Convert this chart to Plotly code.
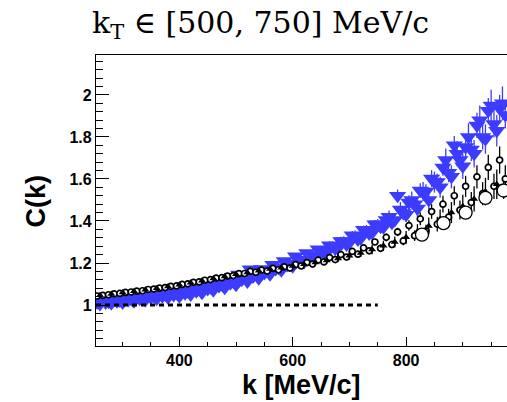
import plotly.graph_objects as go

# Correlation function C(k) for k_T in [500, 750] MeV/c

# Common k binning (MeV/c)
k_bins = [255, 265, 275, 285, 295, 305, 315, 325, 335, 345,
          355, 365, 375, 385, 395, 405, 415, 425, 435, 445,
          455, 465, 475, 485, 495, 505, 515, 525, 535, 545,
          555, 565, 575, 585, 595, 605, 615, 625, 635, 645,
          655, 665, 675, 685, 695, 705, 715, 725, 735, 745,
          755, 765, 775, 785, 795, 805, 815, 825, 835, 845,
          855, 865, 875, 885, 895, 905, 915, 925, 935, 945,
          955, 965, 975]

# Blue data set (filled down triangles)
blue_c = [1.012, 1.024, 1.016, 1.030, 1.022, 1.037, 1.029, 1.045, 1.036, 1.052,
          1.044, 1.060, 1.050, 1.066, 1.057, 1.074, 1.065, 1.084, 1.075, 1.095,
          1.085, 1.108, 1.099, 1.122, 1.112, 1.145, 1.132, 1.170, 1.150, 1.172,
          1.162, 1.192, 1.178, 1.210, 1.198, 1.232, 1.215, 1.248, 1.232, 1.265,
          1.248, 1.285, 1.268, 1.305, 1.288, 1.332, 1.312, 1.358, 1.340, 1.385,
          1.372, 1.405, 1.392, 1.520, 1.438, 1.488, 1.480, 1.545, 1.540, 1.602,
          1.585, 1.655, 1.630, 1.760, 1.690, 1.752, 1.740, 1.855, 1.800, 1.925,
          1.862, 1.935, 1.905]
blue_err = [0.006, 0.006, 0.006, 0.006, 0.006, 0.006, 0.006, 0.006, 0.006, 0.006,
            0.006, 0.006, 0.006, 0.006, 0.006, 0.006, 0.006, 0.006, 0.006, 0.006,
            0.010, 0.010, 0.010, 0.010, 0.010, 0.010, 0.010, 0.010, 0.010, 0.010,
            0.010, 0.010, 0.010, 0.010, 0.010, 0.012, 0.012, 0.012, 0.012, 0.012,
            0.020, 0.020, 0.020, 0.020, 0.020, 0.020, 0.020, 0.020, 0.020, 0.020,
            0.025, 0.025, 0.025, 0.030, 0.030, 0.035, 0.035, 0.035, 0.035, 0.040,
            0.040, 0.040, 0.045, 0.045, 0.045, 0.050, 0.055, 0.060, 0.060, 0.060,
            0.065, 0.065, 0.065]

# Blue data set, shifted binning (filled down triangles)
blue2_k = [260, 270, 280, 290, 300, 310, 320, 330, 340, 350,
           360, 370, 380, 390, 400, 410, 420, 430, 440, 450,
           460, 470, 480, 490, 500, 510, 520, 530, 540, 550,
           560, 570, 580, 590, 600, 610, 620, 630, 640, 650,
           660, 670, 680, 690, 700, 710, 720, 730, 740, 750,
           760, 770, 780, 790, 800, 810, 820, 830, 840, 850,
           860, 870, 880, 890, 900, 910, 920, 930, 940, 950,
           960, 970]
blue2_c = [1.005, 1.012, 1.008, 1.018, 1.012, 1.024, 1.018, 1.030, 1.024, 1.036,
           1.030, 1.042, 1.036, 1.048, 1.042, 1.056, 1.050, 1.066, 1.058, 1.076,
           1.070, 1.090, 1.082, 1.104, 1.096, 1.120, 1.112, 1.136, 1.128, 1.152,
           1.146, 1.172, 1.165, 1.190, 1.185, 1.212, 1.205, 1.235, 1.226, 1.258,
           1.250, 1.282, 1.272, 1.305, 1.296, 1.330, 1.318, 1.356, 1.344, 1.385,
           1.370, 1.420, 1.405, 1.455, 1.430, 1.500, 1.460, 1.540, 1.500, 1.585,
           1.560, 1.690, 1.610, 1.720, 1.660, 1.800, 1.720, 1.880, 1.790, 1.950,
           1.830, 1.960]
blue2_err = [0.008, 0.008, 0.008, 0.008, 0.008, 0.008, 0.008, 0.008, 0.008, 0.008,
             0.008, 0.008, 0.008, 0.008, 0.008, 0.008, 0.008, 0.008, 0.008, 0.008,
             0.012, 0.012, 0.012, 0.012, 0.012, 0.012, 0.012, 0.012, 0.012, 0.012,
             0.014, 0.014, 0.014, 0.014, 0.014, 0.016, 0.016, 0.016, 0.016, 0.016,
             0.022, 0.022, 0.022, 0.022, 0.022, 0.025, 0.025, 0.025, 0.025, 0.025,
             0.030, 0.030, 0.030, 0.035, 0.035, 0.040, 0.040, 0.045, 0.045, 0.050,
             0.050, 0.055, 0.055, 0.060, 0.060, 0.065, 0.065, 0.070, 0.070, 0.075,
             0.075, 0.080]

# Black data set (open circles)
black_c = [1.043, 1.046, 1.049, 1.053, 1.055, 1.060, 1.062, 1.066, 1.068, 1.074,
           1.076, 1.080, 1.083, 1.089, 1.091, 1.098, 1.101, 1.108, 1.110, 1.118,
           1.121, 1.128, 1.130, 1.138, 1.140, 1.149, 1.150, 1.160, 1.156, 1.166,
           1.162, 1.174, 1.168, 1.182, 1.176, 1.192, 1.186, 1.202, 1.195, 1.214,
           1.205, 1.226, 1.216, 1.240, 1.228, 1.255, 1.242, 1.272, 1.258, 1.300,
           1.270, 1.322, 1.288, 1.348, 1.305, 1.378, 1.330, 1.410, 1.352, 1.445,
           1.385, 1.480, 1.418, 1.520, 1.452, 1.565, 1.488, 1.610, 1.530, 1.655,
           1.565, 1.690, 1.600]
black_err = [0.004, 0.004, 0.004, 0.004, 0.004, 0.004, 0.004, 0.004, 0.004, 0.004,
             0.004, 0.004, 0.004, 0.004, 0.004, 0.005, 0.005, 0.005, 0.005, 0.005,
             0.006, 0.006, 0.006, 0.006, 0.006, 0.007, 0.007, 0.007, 0.007, 0.007,
             0.008, 0.008, 0.008, 0.008, 0.008, 0.010, 0.010, 0.010, 0.010, 0.010,
             0.012, 0.012, 0.012, 0.012, 0.012, 0.015, 0.015, 0.015, 0.015, 0.015,
             0.018, 0.018, 0.018, 0.020, 0.020, 0.025, 0.025, 0.030, 0.030, 0.035,
             0.035, 0.040, 0.040, 0.045, 0.045, 0.050, 0.050, 0.055, 0.055, 0.060,
             0.060, 0.065, 0.065]

# Second black data set (small filled triangles), coarser binning
tri_k = [260, 280, 300, 320, 340, 360, 380, 400, 420, 440,
         460, 480, 500, 520, 540, 560, 580, 600, 620, 640,
         660, 680, 700, 720, 740, 760, 780, 800, 820, 840,
         860, 880, 900, 920, 940, 960]
tri_c = [1.046, 1.052, 1.060, 1.066, 1.073, 1.080, 1.088, 1.097, 1.106, 1.116,
         1.126, 1.136, 1.146, 1.155, 1.163, 1.171, 1.178, 1.186, 1.194, 1.202,
         1.212, 1.222, 1.234, 1.248, 1.264, 1.282, 1.300, 1.322, 1.350, 1.376,
         1.410, 1.440, 1.470, 1.505, 1.540, 1.575]
tri_err = [0.004, 0.004, 0.004, 0.005, 0.005, 0.005, 0.006, 0.006, 0.006, 0.007,
           0.007, 0.008, 0.008, 0.009, 0.010, 0.010, 0.011, 0.012, 0.013, 0.014,
           0.015, 0.016, 0.018, 0.020, 0.022, 0.024, 0.026, 0.030, 0.035, 0.040,
           0.045, 0.050, 0.055, 0.060, 0.065, 0.070]

# Wide-bin points at high k (large open circles)
wide_k = [828, 866, 905, 940, 972]
wide_c = [1.335, 1.390, 1.440, 1.510, 1.545]
wide_err = [0.020, 0.025, 0.030, 0.035, 0.040]

# Reference line C(k) = 1
ref_k = [253, 750]
ref_c = [1.0, 1.0]

BLUE = "#3c3cff"

fig = go.Figure()

for xs, ys, es in [(k_bins, blue_c, blue_err), (blue2_k, blue2_c, blue2_err)]:
    fig.add_trace(go.Scatter(
        x=xs, y=ys, mode="markers",
        marker=dict(symbol="triangle-down", size=15, color=BLUE, line=dict(width=0)),
        error_y=dict(type="data", array=es, color=BLUE, thickness=1.3, width=0),
        showlegend=False))

fig.add_trace(go.Scatter(
    x=k_bins, y=black_c, mode="markers",
    marker=dict(symbol="circle", size=6, color="white", line=dict(color="black", width=1.7)),
    error_y=dict(type="data", array=black_err, color="black", thickness=1.3, width=0),
    showlegend=False))

fig.add_trace(go.Scatter(
    x=tri_k, y=tri_c, mode="markers",
    marker=dict(symbol="triangle-up", size=7, color="black", line=dict(width=0)),
    error_y=dict(type="data", array=tri_err, color="black", thickness=1.3, width=0),
    showlegend=False))

fig.add_trace(go.Scatter(
    x=wide_k, y=wide_c, mode="markers",
    marker=dict(symbol="circle", size=13, color="white", line=dict(color="black", width=1.3)),
    error_y=dict(type="data", array=wide_err, color="black", thickness=1.3, width=0),
    showlegend=False))

fig.add_trace(go.Scatter(
    x=ref_k, y=ref_c, mode="lines",
    line=dict(color="black", width=3, dash="5px,4px"),
    showlegend=False))

tickfont = dict(family="Liberation Sans", size=16, color="black", weight="bold")

fig.update_xaxes(
    range=[253, 978], showline=True, linecolor="black", linewidth=1.2, mirror=True,
    ticks="inside", ticklen=9, tickwidth=1.2, tickcolor="black",
    dtick=200, tick0=0, tickfont=tickfont,
    minor=dict(dtick=50, ticks="inside", ticklen=4, tickwidth=1.2, tickcolor="black"),
    showgrid=False, zeroline=False)

fig.update_yaxes(
    range=[0.805, 2.19], showline=True, linecolor="black", linewidth=1.2, mirror=False,
    ticks="inside", ticklen=13, tickwidth=1.2, tickcolor="black",
    dtick=0.2, tick0=0, tickfont=tickfont,
    minor=dict(dtick=0.04, ticks="inside", ticklen=7, tickwidth=1.2, tickcolor="black"),
    showgrid=False, zeroline=False)

# Axis titles
fig.add_annotation(
    text="<b>k [MeV/c]</b>", xref="paper", yref="paper",
    x=0.5, y=-0.189, xanchor="center", yanchor="bottom", showarrow=False, borderpad=0,
    font=dict(family="Liberation Sans", size=27, color="black"))
fig.add_annotation(
    text="<b>C(k)</b>", xref="paper", yref="paper", textangle=-90,
    x=-0.146, y=0.5, xanchor="center", yanchor="middle", showarrow=False,
    font=dict(family="Liberation Sans", size=27, color="black"))

# Header
fig.add_annotation(
    text="k<sub>T</sub> ∈ [500, 750] MeV/c", xref="paper", yref="paper",
    x=0.40, y=1.0, xanchor="center", yanchor="bottom", yshift=9, showarrow=False,
    font=dict(family="DejaVu Serif", size=30, color="black"))

fig.update_layout(
    width=507, height=402,
    margin=dict(l=96, r=0, t=55, b=56),
    plot_bgcolor="white", paper_bgcolor="white")

fig.write_html("out.html")
